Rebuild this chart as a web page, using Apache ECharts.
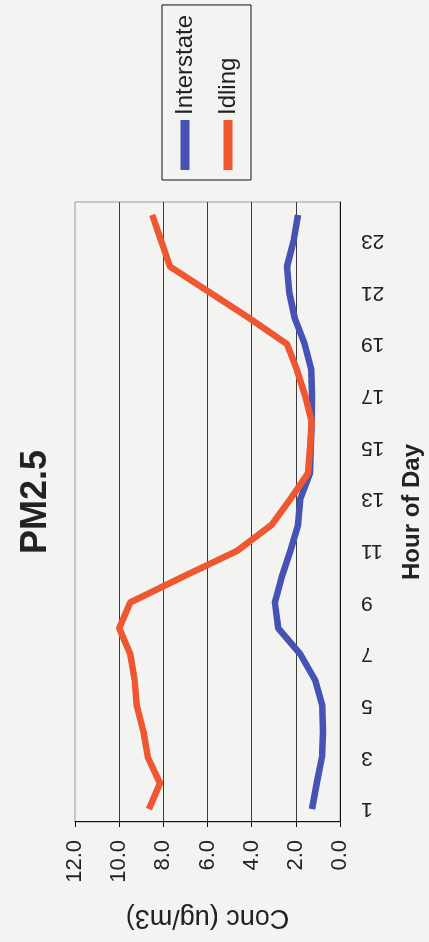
<!DOCTYPE html>
<html>
<head>
<meta charset="utf-8">
<script src="https://cdn.jsdelivr.net/npm/echarts@6/dist/echarts.min.js"></script>
<style>
  html, body {
    margin: 0;
    padding: 0;
    width: 429px;
    height: 942px;
    overflow: hidden;
    background: #f3f3f1;
  }
  /* the chart is laid out landscape and turned a quarter turn, like the scan */
  #chart_pm25 {
    position: absolute;
    left: 0;
    top: 0;
    width: 942px;
    height: 429px;
    transform-origin: 0 0;
    transform: translate(0, 942px) rotate(-90deg);
  }
</style>
</head>
<body>
<div id="chart_pm25"></div>
<script>
const hours = ['1', '2', '3', '4', '5', '6', '7', '8', '9', '10', '11', '12',
  '13', '14', '15', '16', '17', '18', '19', '20', '21', '22', '23', '24']
const interstate = [1.27, 1.05, 0.82, 0.77, 0.8, 1.13, 1.8, 2.8, 2.95, 2.63, 2.25, 1.9,
  1.8, 1.36, 1.32, 1.28, 1.27, 1.3, 1.6, 2.05, 2.3, 2.4, 2.1, 1.9]
const idling = [8.65, 8.15, 8.7, 8.9, 9.2, 9.3, 9.5, 10.0, 9.5, 7.1, 4.65, 3.1,
  2.25, 1.45, 1.36, 1.28, 1.58, 1.95, 2.4, 4.1, 5.9, 7.7, 8.1, 8.5]
const concTicks = { min: 0, max: 12, step: 2 }

const font = '"Liberation Sans", Arial, sans-serif'
const ink = '#222'

const myChart = echarts.init(document.getElementById('chart_pm25'))
const option = {
  backgroundColor: '#f3f3f1',
  textStyle: { fontFamily: font, color: ink },
  title: {
    text: 'PM2.5',
    left: 388,
    top: 18,
    padding: 0,
    textStyle: { fontFamily: font, fontSize: 36, fontWeight: 'bold', color: ink }
  },
  legend: {
    orient: 'vertical',
    left: 762,
    top: 162,
    padding: [10, 10, 10, 10],
    borderColor: '#111',
    borderWidth: 1,
    icon: 'rect',
    itemWidth: 50,
    itemHeight: 9,
    itemGap: 17,
    textStyle: { fontFamily: font, fontSize: 24, color: ink, lineHeight: 26 },
    data: ['Interstate', 'Idling']
  },
  grid: {
    left: 120,
    right: 202,
    top: 75,
    bottom: 89,
    show: true,
    borderColor: '#9a9a9a',
    borderWidth: 1,
    backgroundColor: 'transparent'
  },
  xAxis: {
    type: 'category',
    data: hours,
    name: 'Hour of Day',
    nameLocation: 'middle',
    nameGap: 60,
    nameTextStyle: { fontFamily: font, fontSize: 24, fontWeight: 'bold', color: ink },
    axisLine: { lineStyle: { color: '#111', width: 1 } },
    axisTick: { interval: 0, length: 7, lineStyle: { color: '#111' } },
    axisLabel: {
      interval: 1,
      rotate: 90,
      margin: 21,
      fontFamily: font,
      fontSize: 21,
      color: ink
    }
  },
  yAxis: {
    type: 'value',
    min: concTicks.min,
    max: concTicks.max,
    interval: concTicks.step,
    name: 'Conc (ug/m3)',
    nameLocation: 'middle',
    nameGap: 82,
    nameTextStyle: { fontFamily: font, fontSize: 27, color: ink },
    axisLine: { show: true, lineStyle: { color: '#111', width: 1 } },
    axisTick: { show: true, length: 5, lineStyle: { color: '#111' } },
    axisLabel: {
      margin: 18,
      fontFamily: font,
      fontSize: 22,
      color: ink,
      formatter: v => v.toFixed(1)
    },
    splitLine: {
      show: true,
      showMaxLine: false,
      lineStyle: { color: '#3a3a3a', width: 1 }
    }
  },
  series: [
    {
      name: 'Interstate',
      type: 'line',
      data: interstate,
      showSymbol: false,
      color: '#4753b4',
      lineStyle: { width: 6.5, color: '#4753b4' }
    },
    {
      name: 'Idling',
      type: 'line',
      data: idling,
      showSymbol: false,
      color: '#ef5731',
      lineStyle: { width: 6.5, color: '#ef5731' }
    }
  ]
}
myChart.setOption(option)
</script>
</body>
</html>
